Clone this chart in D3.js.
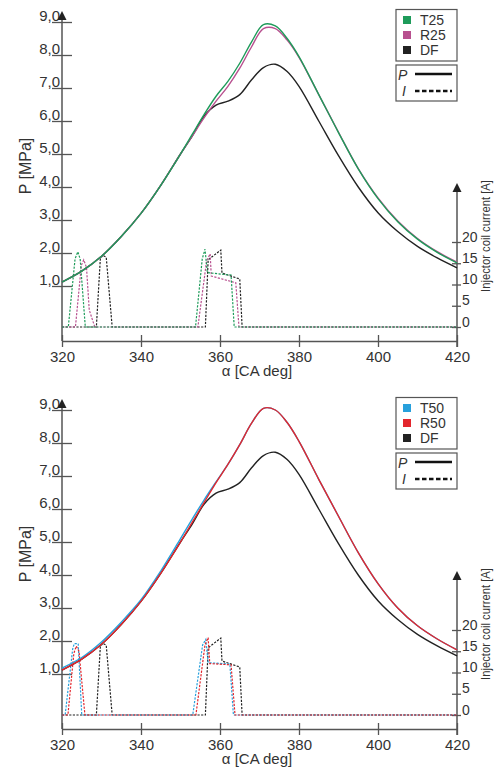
<!DOCTYPE html>
<html>
<head>
<meta charset="utf-8">
<script src="https://cdn.jsdelivr.net/npm/d3@7"></script>
<style>
  body { margin: 0; background: #fff; }
  text { font-family: "Liberation Sans", Arial, sans-serif; fill: #333; }
</style>
</head>
<body>
<script>
// crank angle grid for the pressure curves [CA deg]
const crankAngle = [320, 325, 330, 335, 340, 345, 350, 353, 356, 359, 362, 365, 368, 371, 374, 377, 380, 385, 390, 395, 400, 405, 410, 415, 420];

// cylinder pressure [MPa]
const pDF  = [1.12, 1.45, 1.9, 2.5, 3.2, 4.05, 5.0, 5.55, 6.15, 6.48, 6.6, 6.8, 7.25, 7.62, 7.72, 7.5, 7.05, 6.0, 4.95, 4.0, 3.22, 2.65, 2.2, 1.85, 1.55];
const pT25 = [1.12, 1.45, 1.9, 2.5, 3.2, 4.05, 5.0, 5.6, 6.2, 6.75, 7.2, 7.75, 8.4, 8.92, 8.88, 8.5, 7.95, 6.8, 5.65, 4.55, 3.65, 2.95, 2.42, 2.02, 1.7];
const pR25 = [1.12, 1.45, 1.9, 2.5, 3.2, 4.05, 5.0, 5.55, 6.1, 6.6, 7.05, 7.6, 8.25, 8.8, 8.8, 8.45, 7.93, 6.8, 5.66, 4.56, 3.67, 2.97, 2.44, 2.04, 1.72];
const pT50 = [1.18, 1.5, 1.97, 2.57, 3.25, 4.12, 5.1, 5.7, 6.28, 6.82, 7.35, 7.95, 8.6, 9.05, 9.0, 8.62, 8.05, 6.9, 5.78, 4.68, 3.74, 3.0, 2.46, 2.06, 1.73];
const pR50 = [1.12, 1.45, 1.9, 2.5, 3.2, 4.05, 5.0, 5.6, 6.2, 6.8, 7.35, 7.95, 8.6, 9.05, 9.0, 8.62, 8.05, 6.9, 5.78, 4.68, 3.74, 3.0, 2.46, 2.06, 1.73];

// injector coil current [deg, A]
const iDF  = [[320, 0], [328.7, 0], [329.7, 16], [330.3, 16.9], [331.2, 16.4], [332.7, 0], [356.3, 0], [357, 15.8], [360.2, 18.1], [360.5, 12.7], [365, 11.3], [365.6, 0], [420, 0]];
const iT25 = [[320, 0], [321.6, 0], [323.3, 16], [324, 17.7], [324.6, 16], [325.9, 0], [353.8, 0], [355.5, 16], [356.2, 18.3], [356.8, 12.8], [362.8, 12.2], [363.6, 0], [420, 0]];
const iR25 = [[320, 0], [323.4, 0], [324.9, 14.5], [325.5, 15.8], [326.2, 14], [326.9, 4], [328.3, 0], [354.4, 0], [356.6, 15.5], [357.5, 17.2], [357.8, 12], [364, 10.4], [364.8, 0], [420, 0]];
const iT50 = [[320, 0], [320.8, 0], [322.7, 15.5], [323.1, 16.8], [324.1, 16.8], [325, 0], [353.1, 0], [355.6, 16.5], [356.4, 17.8], [357, 12.3], [362.5, 12], [363.4, 0], [420, 0]];
const iR50 = [[320, 0], [321.5, 0], [323, 14.5], [323.6, 16.2], [324.3, 15], [325.8, 0], [353.9, 0], [356.2, 16.5], [357, 18.2], [357.4, 12.1], [362.8, 11.8], [363.8, 0], [420, 0]];

const pTicks = [1, 2, 3, 4, 5, 6, 7, 8, 9];
const iTicks = [0, 5, 10, 15, 20];
const aTicks = [320, 340, 360, 380, 400, 420];

const width = 494;
const height = 767;

const svg = d3.select("body").append("svg")
  .attr("width", width)
  .attr("height", height);

const x = d3.scaleLinear().domain([320, 420]).range([62, 457]);

// series: drawn in array order, legend lists them in legendOrder
function drawPanel(top, series, legendOrder) {
  const g = svg.append("g").attr("transform", `translate(0,${top})`);
  const yP = d3.scaleLinear().domain([0, 9]).range([319, 22]);
  const yI = d3.scaleLinear().domain([0, 20]).range([327, 242]);

  // left axis
  const left = g.append("g")
    .attr("transform", `translate(${x(320)},0)`)
    .call(d3.axisLeft(yP).tickValues(pTicks).tickSizeOuter(0).tickSizeInner(10)
      .tickFormat((d) => d3.format(".1f")(d).replace(".", ",")));
  left.select(".domain").remove();
  left.selectAll(".tick line").attr("x1", 10).attr("stroke", "#555").attr("stroke-width", 1.3);
  left.selectAll(".tick text").attr("x", -2).attr("dy", -1.5)
    .style("font-size", "15px").attr("fill", "#333");
  g.append("line").attr("x1", x(320)).attr("x2", x(320)).attr("y1", 341).attr("y2", 14)
    .attr("stroke", "#555").attr("stroke-width", 1.5);
  g.append("path").attr("d", `M${x(320)},11L${x(320) - 4.5},20L${x(320) + 4.5},20Z`).attr("fill", "#222");
  g.append("text").attr("transform", "translate(31,166) rotate(-90)")
    .attr("text-anchor", "middle").style("font-size", "16px").text("P [MPa]");

  // right axis
  const right = g.append("g")
    .attr("transform", `translate(${x(420)},0)`)
    .call(d3.axisRight(yI).tickValues(iTicks).tickSizeOuter(0).tickSizeInner(4));
  right.select(".domain").remove();
  right.selectAll(".tick line").attr("x1", -5).attr("stroke", "#555").attr("stroke-width", 1.3);
  right.selectAll(".tick text").attr("x", 5).attr("dy", -1)
    .style("font-size", "14px").attr("fill", "#333");
  g.append("line").attr("x1", x(420)).attr("x2", x(420)).attr("y1", 347).attr("y2", 187)
    .attr("stroke", "#555").attr("stroke-width", 1.5);
  g.append("path").attr("d", `M${x(420)},183L${x(420) - 4.5},192L${x(420) + 4.5},192Z`).attr("fill", "#222");
  g.append("text").attr("transform", "translate(490,236) rotate(-90)")
    .attr("text-anchor", "middle").style("font-size", "12px")
    .attr("textLength", 112).attr("lengthAdjust", "spacingAndGlyphs")
    .text("Injector coil current [A]");

  // bottom axis
  const bottom = g.append("g")
    .attr("transform", "translate(0,341)")
    .call(d3.axisBottom(x).tickValues(aTicks).tickSizeOuter(0).tickSizeInner(6));
  bottom.select(".domain").attr("stroke", "#555").attr("stroke-width", 1.5);
  bottom.selectAll(".tick line").attr("y1", -6).attr("stroke", "#555").attr("stroke-width", 1.3);
  bottom.selectAll(".tick text").attr("y", 10).attr("dy", "0.71em")
    .style("font-size", "15px").attr("fill", "#333");
  g.append("text").attr("x", 257).attr("y", 376).attr("text-anchor", "middle")
    .style("font-size", "15px").text("α [CA deg]");

  // current traces
  const iLine = d3.line().x((d) => x(d[0])).y((d) => yI(d[1]));
  g.append("g").selectAll("path").data(series).join("path")
    .attr("d", (s) => iLine(s.current))
    .attr("fill", "none").attr("stroke", (s) => s.color)
    .attr("stroke-width", 1.2).attr("stroke-dasharray", "2.2,1.4");

  // pressure traces
  const pLine = d3.line().curve(d3.curveCatmullRom.alpha(0.5))
    .x((d, i) => x(crankAngle[i])).y((d) => yP(d));
  g.append("g").selectAll("path").data(series).join("path")
    .attr("d", (s) => pLine(s.pressure))
    .attr("fill", "none").attr("stroke", (s) => s.color).attr("stroke-width", 1.4);

  // legend
  const lg = g.append("g");
  lg.append("rect").attr("x", 396).attr("y", 9.5).attr("width", 61).attr("height", 51.5)
    .attr("fill", "#fff").attr("stroke", "#555").attr("stroke-width", 1.2);
  legendOrder.forEach((name, i) => {
    const s = series.find((d) => d.name === name);
    const cy = 20 + i * 15;
    lg.append("rect").attr("x", 403).attr("y", cy - 4).attr("width", 8).attr("height", 8).attr("fill", s.color);
    lg.append("text").attr("x", 420).attr("y", cy + 5).style("font-size", "14px").text(s.name);
  });
  lg.append("rect").attr("x", 396).attr("y", 65).attr("width", 61).attr("height", 36)
    .attr("fill", "#fff").attr("stroke", "#555").attr("stroke-width", 1.2);
  lg.append("text").attr("x", 398).attr("y", 80).style("font-size", "14px").style("font-style", "italic").text("P");
  lg.append("line").attr("x1", 415).attr("x2", 452).attr("y1", 74).attr("y2", 74)
    .attr("stroke", "#111").attr("stroke-width", 2.5);
  lg.append("text").attr("x", 402).attr("y", 96).style("font-size", "14px").style("font-style", "italic").text("I");
  lg.append("line").attr("x1", 415).attr("x2", 452).attr("y1", 91).attr("y2", 91)
    .attr("stroke", "#111").attr("stroke-width", 2.5).attr("stroke-dasharray", "4.5,2.5");
}

drawPanel(0, [
  { name: "DF", color: "#222222", pressure: pDF, current: iDF },
  { name: "R25", color: "#b8508f", pressure: pR25, current: iR25 },
  { name: "T25", color: "#1e9b5a", pressure: pT25, current: iT25 },
], ["T25", "R25", "DF"]);

drawPanel(388, [
  { name: "DF", color: "#222222", pressure: pDF, current: iDF },
  { name: "T50", color: "#27a0dc", pressure: pT50, current: iT50 },
  { name: "R50", color: "#e3262d", pressure: pR50, current: iR50 },
], ["T50", "R50", "DF"]);
</script>
</body>
</html>
